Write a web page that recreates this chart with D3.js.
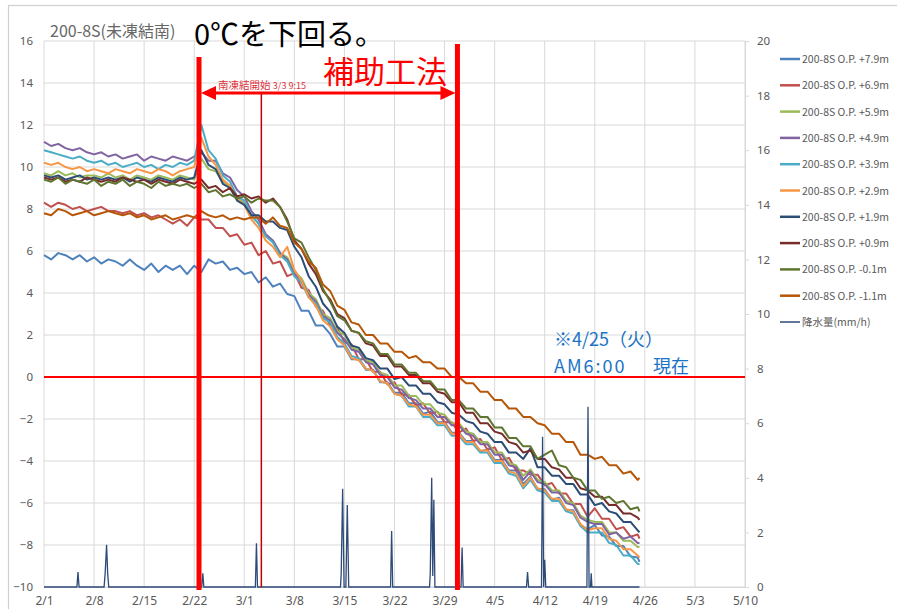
<!DOCTYPE html>
<html><head><meta charset="utf-8">
<script src="https://cdn.jsdelivr.net/npm/d3@7"></script>
<style>
body{margin:0;background:#fff;}
svg{display:block;font-family:"Noto Sans","Noto Sans CJK JP",sans-serif;}
</style>
</head><body>
<svg id="c" width="897" height="609"></svg>
<script>
// ---------- DATA ----------
const xTickLabels = ["2/1","2/8","2/15","2/22","3/1","3/8","3/15","3/22","3/29","4/5","4/12","4/19","4/26","5/3","5/10"];
const leftTicks = [-10,-8,-6,-4,-2,0,2,4,6,8,10,12,14,16];
const rightTicks = [0,2,4,6,8,10,12,14,16,18,20];
// sample times: days since 2/1 0:00 (daily, last sample 4/25 6:00)
const sampleDays = [0,1,2,3,4,5,6,7,8,9,10,11,12,13,14,15,16,17,18,19,20,21,22,23,24,25,26,27,28,29,30,31,32,33,34,35,36,37,38,39,40,41,42,43,44,45,46,47,48,49,50,51,52,53,54,55,56,57,58,59,60,61,62,63,64,65,66,67,68,69,70,71,72,73,74,75,76,77,78,79,80,81,82,83,83.25];

const seriesNames = ["200-8S O.P. +7.9m","200-8S O.P. +6.9m","200-8S O.P. +5.9m","200-8S O.P. +4.9m","200-8S O.P. +3.9m","200-8S O.P. +2.9m","200-8S O.P. +1.9m","200-8S O.P. +0.9m","200-8S O.P. -0.1m","200-8S O.P. -1.1m"];

const op79 = [5.8,5.6,5.9,5.8,5.6,5.8,5.5,5.7,5.4,5.6, 5.5,5.3,5.6,5.3,5.1,5.4,5.0,5.3,5.1,5.3, 4.9,5.3,5.0,5.6,5.4,5.5,5.1,5.2,4.9,5.0, 4.5,4.75,4.3,4.45,3.95,3.85,3.15,3.15,2.45,2.45, 2.05,1.45,1.45,0.85,0.85,0.35,0.35,-0.25,-0.25,-0.75, -0.75,-1.25,-1.25,-1.75,-1.65,-2.15,-2.15,-2.65,-2.65,-3.05, -3.05,-3.55,-3.45,-3.95,-3.95,-4.45,-4.45,-5.1,-4.75,-5.35, -5.35,-5.85,-5.75,-6.35,-6.35,-7.05,-7.25,-7.05,-7.55,-7.6, -8.05,-8.05,-8.55,-8.6,-8.8];
const op69 = [8.3,8.1,8.3,8.2,8.0,8.1,7.9,8.0,8.1,7.9, 7.9,7.8,7.9,7.7,7.8,7.6,7.7,7.5,7.3,7.5, 7.2,7.6,7.5,7.5,7.1,7.1,6.7,6.8,6.3,6.4, 5.8,6.0,5.4,5.5,4.8,4.95,4.25,4.15,3.35,3.15, 2.45,2.35,1.65,1.55,0.85,0.85,0.25,0.25,-0.35,-0.25, -0.85,-0.85,-1.35,-1.25,-1.75,-1.65,-2.15,-2.15,-2.65,-2.45, -3.05,-2.95,-3.45,-3.35,-3.95,-3.85,-4.45,-4.45,-4.65,-4.65, -5.15,-5.05,-5.55,-5.55,-6.05,-6.05,-6.65,-6.25,-6.75,-6.75, -7.25,-7.15,-7.6,-7.5,-7.7];
const op59 = [9.7,9.6,9.8,9.6,9.7,9.5,9.6,9.6,9.5,9.7, 9.5,9.6,9.4,9.6,9.5,9.4,9.6,9.5,9.4,9.6, 9.5,9.4,10.4,9.9,9.8,9.3,9.1,8.5,8.3,7.7, 7.3,6.7,6.5,5.9,5.7,5.0,4.7,4.0,3.7,3.0, 2.8,2.2,2.0,1.4,1.3,0.8,0.7,0.2,0.1,-0.4, -0.4,-0.9,-0.9,-1.3,-1.3,-1.7,-1.8,-2.2,-2.2,-2.6, -2.7,-3.1,-3.1,-3.6,-3.6,-4.1,-4.2,-4.7,-4.4,-4.9, -5.0,-5.4,-5.4,-5.9,-6.0,-6.6,-6.8,-6.9,-6.9,-7.4, -7.4,-7.8,-7.8,-8.1,-8.1];
const op49 = [11.2,11.0,11.1,10.9,10.8,10.9,10.7,10.6,10.7,10.5, 10.6,10.4,10.5,10.6,10.3,10.5,10.4,10.3,10.5,10.4, 10.3,10.5,10.7,10.3,10.3,9.7,9.5,8.9,8.6,7.9, 7.5,6.8,6.5,5.9,5.6,4.9,4.6,3.9,3.6,2.9, 2.7,2.1,1.8,1.3,1.2,0.7,0.6,0.1,0.0,-0.5, -0.6,-1.0,-1.1,-1.5,-1.5,-1.9,-1.9,-2.3,-2.3,-2.7, -2.8,-3.2,-3.2,-3.7,-3.7,-4.2,-4.3,-4.9,-4.5,-5.0, -5.1,-5.5,-5.5,-6.0,-6.1,-6.7,-6.9,-7.0,-7.0,-7.5, -7.4,-7.7,-7.6,-7.9,-7.9];
const op39 = [10.8,10.7,10.6,10.5,10.4,10.5,10.3,10.2,10.3,10.1, 10.2,10.0,10.1,10.2,10.0,10.1,9.9,10.1,10.0,10.2, 10.1,10.3,12.0,10.8,10.4,9.6,9.3,8.6,8.4,7.7, 7.3,6.7,6.4,5.8,5.5,4.8,4.5,3.8,3.5,2.8, 2.6,1.9,1.6,1.0,0.9,0.4,0.3,-0.2,-0.3,-0.8, -0.9,-1.4,-1.4,-1.9,-1.9,-2.3,-2.3,-2.8,-2.8,-3.2, -3.2,-3.6,-3.6,-4.1,-4.1,-4.6,-4.7,-5.3,-4.9,-5.4, -5.5,-5.9,-5.9,-6.4,-6.5,-7.1,-7.4,-7.4,-7.4,-7.9, -8.0,-8.5,-8.5,-8.9,-8.9];
const op29 = [10.2,10.1,10.2,10.0,9.9,10.0,9.8,9.9,9.8,9.7, 9.9,9.8,9.7,9.9,9.8,9.7,9.9,9.8,9.6,9.8, 9.9,10.0,11.4,10.5,10.1,9.4,9.1,8.5,8.2,7.5, 7.1,6.5,6.2,5.7,6.2,5.1,4.6,3.8,3.4,2.7, 2.4,1.8,1.5,0.9,0.8,0.4,0.3,-0.2,-0.3,-0.8, -0.9,-1.3,-1.4,-1.8,-1.8,-2.2,-2.2,-2.7,-2.7,-3.1, -3.1,-3.5,-3.5,-4.0,-4.0,-4.5,-4.6,-5.2,-4.8,-5.3, -5.4,-5.8,-5.8,-6.3,-6.4,-7.0,-7.3,-7.2,-7.2,-7.7, -7.8,-8.2,-8.2,-8.5,-8.6];
const op19 = [9.6,9.5,9.6,9.4,9.5,9.6,9.4,9.5,9.4,9.5, 9.4,9.5,9.3,9.5,9.4,9.3,9.5,9.4,9.3,9.5, 9.4,9.5,10.8,10.1,9.9,9.2,9.0,8.4,8.2,7.7, 7.7,7.4,7.4,7.1,7.0,6.2,5.7,4.8,4.3,3.5, 3.1,2.4,2.1,1.5,1.4,0.9,0.8,0.4,0.4,-0.1, 0.0,-0.4,-0.4,-0.8,-0.8,-1.2,-1.3,-1.7,-1.8,-2.1, -2.2,-2.6,-2.7,-3.1,-3.1,-3.6,-3.6,-3.9,-3.4,-4.3, -4.3,-4.7,-4.7,-5.1,-5.1,-5.6,-5.6,-6.1,-6.0,-6.4, -6.5,-6.9,-6.9,-7.3,-7.4];
const op09 = [9.5,9.4,9.5,9.3,9.4,9.3,9.5,9.4,9.3,9.4, 9.3,9.5,9.4,9.3,9.4,9.2,9.4,9.3,9.2,9.4, 9.3,9.2,9.4,9.0,9.1,8.8,9.0,8.6,8.7,8.5, 8.6,8.3,8.5,8.1,7.5,6.5,6.1,5.4,4.9,4.1, 3.7,3.0,2.8,2.2,2.1,1.6,1.5,1.0,1.0,0.5, 0.5,0.1,0.1,-0.3,-0.3,-0.7,-0.8,-1.2,-1.2,-1.7, -1.7,-2.2,-2.2,-2.6,-2.7,-3.1,-3.2,-3.6,-3.5,-3.9, -3.9,-4.3,-4.4,-4.8,-4.8,-5.3,-5.4,-5.7,-5.7,-6.1, -6.1,-6.5,-6.5,-6.7,-6.8];
const opm01 = [9.4,9.3,9.5,9.2,9.4,9.3,9.2,9.4,9.1,9.3, 9.2,9.4,9.1,9.3,9.2,9.0,9.3,9.1,9.2,9.1, 9.2,9.0,9.2,8.8,8.9,8.6,8.7,8.5,8.6,8.3, 8.5,8.4,8.4,8.1,7.4,6.6,6.4,5.7,5.1,4.2, 3.6,2.9,2.7,2.2,2.1,1.7,1.6,1.1,1.1,0.6, 0.6,0.2,0.2,-0.2,-0.2,-0.6,-0.6,-1.1,-1.1,-1.5, -1.5,-1.9,-1.9,-2.4,-2.4,-2.9,-2.9,-3.3,-3.3,-3.9, -3.7,-3.5,-4.2,-4.3,-4.8,-4.9,-5.4,-5.4,-5.8,-5.7, -6.0,-5.9,-6.3,-6.2,-6.4];
const opm11 = [7.8,7.7,8.0,7.9,7.7,7.8,7.9,7.7,7.8,7.9, 7.8,7.7,7.8,7.6,7.7,7.5,7.6,7.7,7.5,7.6, 7.7,7.6,7.9,7.7,7.6,7.7,7.5,7.6,7.5,7.6, 7.6,7.3,7.6,7.2,7.1,6.4,6.1,5.5,5.2,4.4, 4.1,3.4,3.2,2.6,2.5,2.0,2.0,1.6,1.6,1.2, 1.2,0.9,1.0,0.7,0.7,0.4,0.4,0.0,0.0,-0.3, -0.3,-0.7,-0.7,-1.1,-1.1,-1.5,-1.5,-1.9,-1.9,-2.2, -2.3,-2.7,-2.7,-3.1,-3.1,-3.7,-3.7,-3.9,-3.8,-4.2, -4.2,-4.6,-4.5,-4.9,-4.8];

// precipitation (mm/h): time in days since 2/1, value
const rainDays = [0,4.6,4.75,4.9,8.4,8.55,8.75,8.9,9.05,22.05,22.2,22.35,29.55,29.7,29.85,41.45,41.55,41.75,41.95,42.2,42.4,42.6,48.45,48.6,48.75,53.9,54.0,54.2,54.35,54.5,54.65,58.3,58.45,58.6,67.45,67.6,67.75,69.55,69.7,69.85,70.0,70.15,75.9,76.05,76.2,76.4,76.5,76.6,83.25];
const rainMm   = [0,0,0.55,0,0,0.5,1.55,0.5,0,0,0.5,0,0,1.6,0,0,0.5,3.6,0,0,3.0,0,0,2.05,0,0,0.5,4.0,0.4,3.2,0,0,1.45,0,0,0.55,0,0,5.5,0,1.0,0,0,6.6,0,0,0.5,0,0];

const seriesValues = [op79,op69,op59,op49,op39,op29,op19,op09,opm01,opm11];
const seriesColors = ["#4F81BD","#C0504D","#9BBB59","#8064A2","#4BACC6","#F79646","#2C4D75","#772C2A","#5F7530","#B65708"];
const rainName = "降水量(mm/h)";
const rainColor = "#2E4A78";

// annotation times (days since 2/1)
const auxStartDay = 21.67, auxEndDay = 57.8, freezeStartDay = 30.385;

// ---------- CHART ----------
const svg = d3.select("#c");
const x = d3.scaleLinear().domain([0, 98]).range([44, 745]);
const yL = d3.scaleLinear().domain([-10, 16]).range([587, 41]);
const yR = d3.scaleLinear().domain([0, 20]).range([587, 41]);
const textGray = "#595959", gridCol = "#d9d9d9";
const jp = "Noto Sans CJK JP, sans-serif";

// outer frame
svg.append("rect").attr("x", 8.5).attr("y", 5.5).attr("width", 900).attr("height", 620)
  .attr("fill", "#fff").attr("stroke", "#cfcfcf").attr("stroke-width", 1.2);

// gridlines
const g = svg.append("g");
g.selectAll(".hg").data(leftTicks).join("line")
  .attr("x1", 44).attr("x2", 745).attr("y1", d => yL(d)).attr("y2", d => yL(d))
  .attr("stroke", gridCol).attr("stroke-width", 1);
g.selectAll(".vg").data(xTickLabels).join("line")
  .attr("x1", (d, i) => x(i * 7)).attr("x2", (d, i) => x(i * 7))
  .attr("y1", 41).attr("y2", 587)
  .attr("stroke", gridCol).attr("stroke-width", 1);

// left axis labels
svg.append("g").attr("transform", "translate(44,0)")
  .call(d3.axisLeft(yL).tickValues(leftTicks).tickSize(0).tickPadding(11))
  .call(a => a.select(".domain").remove())
  .call(a => a.selectAll("text").attr("fill", textGray).style("font-size", "11.5px").attr("font-family", "Noto Sans, sans-serif"));
// right axis
svg.append("g").attr("transform", "translate(745,0)")
  .call(d3.axisRight(yR).tickValues(rightTicks).tickSize(4).tickPadding(8))
  .call(a => a.select(".domain").attr("stroke", gridCol))
  .call(a => a.selectAll("line").attr("stroke", gridCol))
  .call(a => a.selectAll("text").attr("fill", textGray).style("font-size", "11.5px").attr("font-family", "Noto Sans, sans-serif"));
// bottom axis
svg.append("g").attr("transform", "translate(0,587)")
  .call(d3.axisBottom(x).tickValues(xTickLabels.map((d, i) => i * 7)).tickFormat((d, i) => xTickLabels[i]).tickSize(0).tickPadding(9))
  .call(a => a.select(".domain").attr("stroke", gridCol))
  .call(a => a.selectAll("text").attr("fill", textGray).style("font-size", "12px").attr("font-family", "Noto Sans, sans-serif"));

// temperature series
const line = d3.line().x((d, i) => x(sampleDays[i])).y(d => yL(d));
seriesValues.forEach((vals, k) => {
  svg.append("path").datum(vals).attr("d", line)
    .attr("fill", "none").attr("stroke", seriesColors[k]).attr("stroke-width", 2)
    .attr("stroke-linejoin", "round");
});
// precipitation
const rline = d3.line().x((d, i) => x(rainDays[i])).y(d => yR(d));
svg.append("path").datum(rainMm).attr("d", rline)
  .attr("fill", "none").attr("stroke", rainColor).attr("stroke-width", 1.3);

// 0 line
svg.append("line").attr("x1", x(0)).attr("x2", x(98)).attr("y1", yL(0)).attr("y2", yL(0))
  .attr("stroke", "#ff0000").attr("stroke-width", 2);

// freeze start line
svg.append("line").attr("x1", x(freezeStartDay)).attr("x2", x(freezeStartDay)).attr("y1", 93).attr("y2", 587)
  .attr("stroke", "#c00000").attr("stroke-width", 1.5);

// thick red lines
svg.append("line").attr("x1", x(auxStartDay)).attr("x2", x(auxStartDay)).attr("y1", 57).attr("y2", 590)
  .attr("stroke", "#ff0000").attr("stroke-width", 5);
svg.append("line").attr("x1", x(auxEndDay)).attr("x2", x(auxEndDay)).attr("y1", 44).attr("y2", 590)
  .attr("stroke", "#ff0000").attr("stroke-width", 5);

// double arrow
const ax1 = x(auxStartDay) + 2, ax2 = x(auxEndDay) - 2, ay = 93;
svg.append("line").attr("x1", ax1 + 12).attr("x2", ax2 - 12).attr("y1", ay).attr("y2", ay)
  .attr("stroke", "#ff0000").attr("stroke-width", 3);
svg.append("path").attr("d", `M${ax1},${ay} L${ax1 + 15},${ay - 7} L${ax1 + 15},${ay + 7} Z`).attr("fill", "#ff0000");
svg.append("path").attr("d", `M${ax2},${ay} L${ax2 - 15},${ay - 7} L${ax2 - 15},${ay + 7} Z`).attr("fill", "#ff0000");

// texts
svg.append("text").attr("x", 50).attr("y", 37).text("200-8S(未凍結南)")
  .attr("fill", "#666").style("font-size", "16px").attr("font-family", jp);
svg.append("text").attr("x", 194).attr("y", 45).text("0℃を下回る。")
  .attr("fill", "#000").style("font-size", "29px").attr("font-family", jp);
svg.append("text").attr("x", 323).attr("y", 83).text("補助工法")
  .attr("fill", "#ff0000").style("font-size", "31px").attr("font-family", jp);
const t3 = svg.append("text").attr("x", 218).attr("y", 89)
  .attr("fill", "#e0303a").attr("font-family", jp);
t3.append("tspan").text("南凍結開始 ").style("font-size", "10.5px");
t3.append("tspan").text("3/3 9:15").style("font-size", "9px");

svg.append("text").attr("x", 554).attr("y", 346).text("※4/25（火）")
  .attr("fill", "#1a73c6").style("font-size", "18px").attr("font-family", jp);
const t5 = svg.append("text").attr("y", 373)
  .attr("fill", "#1a73c6").style("font-size", "18px").attr("font-family", jp);
t5.append("tspan").attr("x", 554).text("AM6:00").style("letter-spacing", "2px");
t5.append("tspan").attr("x", 653).text("現在");

// legend
const legendNames = seriesNames.concat([rainName]);
const legendColors = seriesColors.concat([rainColor]);
const lg = svg.append("g");
legendNames.forEach((n, i) => {
  const yy = 59 + i * 26.3;
  lg.append("line").attr("x1", 780).attr("x2", 800).attr("y1", yy).attr("y2", yy)
    .attr("stroke", legendColors[i]).attr("stroke-width", i === 10 ? 1.5 : 2.5);
  lg.append("text").attr("x", 802).attr("y", yy + 4).text(n)
    .attr("fill", textGray).style("font-size", "10.5px").attr("font-family", jp);
});
</script>
</body></html>
